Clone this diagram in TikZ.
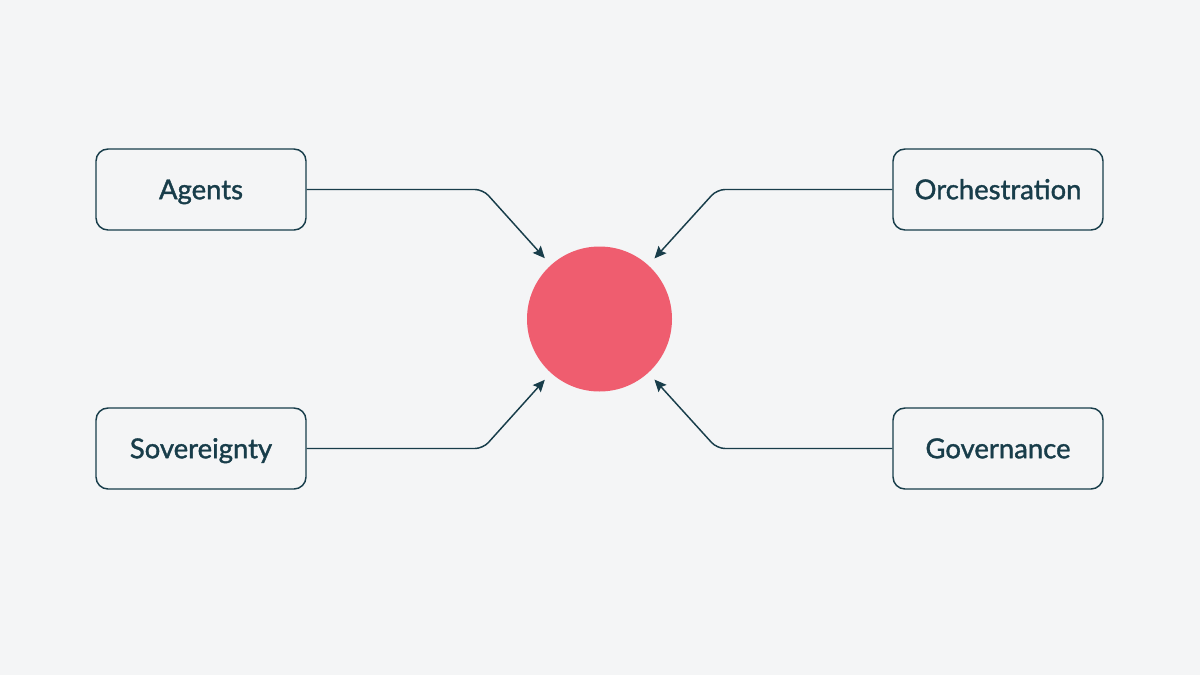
\documentclass[tikz,border=0pt]{standalone}
\usepackage{fontspec}
\setmainfont{Lato}[FakeBold=1.3]
\usetikzlibrary{arrows.meta}
\definecolor{inkteal}{RGB}{24,61,74}
\definecolor{hubred}{RGB}{239,93,111}
\definecolor{paper}{RGB}{244,245,246}

\begin{document}
\begin{tikzpicture}[x=0.75pt,y=0.75pt,yscale=-1,xscale=1,
  topic/.style={draw=inkteal, line width=1.1pt, rounded corners=9pt, minimum width=157.5pt, minimum height=60.75pt, inner sep=0pt, text height=14.6pt, text depth=0pt, text=inkteal, font=\fontsize{20.6}{22}\selectfont},
  link/.style={draw=inkteal, line width=1.1pt, rounded corners=6pt, -{Stealth[length=9pt,width=8pt,inset=1.5pt]}, shorten >=6.75pt}]
%set diagram at 1200 x 675
\fill[paper] (0,0) rectangle (1200,675);

% Hub
\node[circle, fill=hubred, minimum size=108.75pt, inner sep=0pt] (hub) at (599.5,319) {};

% Text Node
\node[topic] (agents) at (201,189.5) {Agents};
% Text Node
\node[topic] (orch) at (998,189.5) {Orchestration};
% Text Node
\node[topic] (sov) at (201,448.5) {Sovereignty};
% Text Node
\node[topic] (gov) at (998,448.5) {Governance};

% Bends
\coordinate (agentsbend) at (483,189.5);
\coordinate (orchbend) at (717,189.5);
\coordinate (sovbend) at (483,448.5);
\coordinate (govbend) at (717,448.5);

%Straight Lines
\draw[link] (agents.east) -- (agentsbend) -- (hub);
\draw[link] (orch.west) -- (orchbend) -- (hub);
\draw[link] (sov.east) -- (sovbend) -- (hub);
\draw[link] (gov.west) -- (govbend) -- (hub);

\end{tikzpicture}
\end{document}
